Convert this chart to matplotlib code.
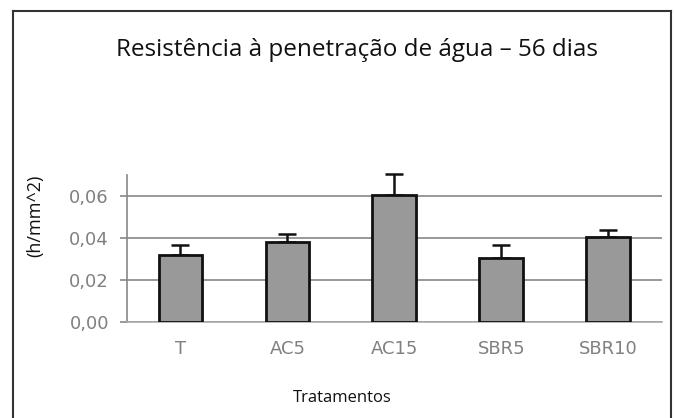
import numpy as np
import matplotlib.pyplot as plt
from matplotlib.lines import Line2D

# data
categorias = ["T", "AC5", "AC15", "SBR5", "SBR10"]
medias = [0.0317, 0.0380, 0.0603, 0.0305, 0.0404]
erros = [0.0050, 0.0040, 0.0100, 0.0060, 0.0035]
yticks = [0.00, 0.02, 0.04, 0.06]
ytick_labels = ["0,00", "0,02", "0,04", "0,06"]

plt.rcParams['font.family'] = ['Open Sans', 'DejaVu Sans']

fig = plt.figure(figsize=(6.74, 4.18), dpi=100, facecolor='white')
ax = fig.add_axes([0.1884, 0.2297, 0.7936, 0.3516])

x = np.arange(len(categorias)) + 0.5
ax.bar(x, medias, width=0.41, color='#999999', edgecolor='#111111', linewidth=2, zorder=3)
ax.errorbar(x, medias, yerr=[np.zeros(len(erros)), erros], fmt='none',
            ecolor='#111111', elinewidth=1.8, capsize=6.5, capthick=1.8, zorder=2,
            clip_on=False)

ax.set_xlim(0, 5)
ax.set_ylim(0, 0.07)
ax.set_yticks(yticks)
ax.set_yticklabels(ytick_labels, family='DejaVu Sans')
ax.set_xticks(x)
ax.set_xticklabels(categorias, family='DejaVu Sans')
ax.grid(axis='y', color='#888888', linewidth=1.2, zorder=0)

for s in ['top', 'right']:
    ax.spines[s].set_visible(False)
ax.spines['left'].set_color('#888888')
ax.spines['left'].set_linewidth(1.2)
ax.spines['bottom'].set_color('#aaaaaa')
ax.spines['bottom'].set_linewidth(1.2)
ax.tick_params(axis='y', length=5, color='#888888', width=1.2, labelcolor='#808080',
               labelsize=13, pad=8)
ax.tick_params(axis='x', length=0, labelcolor='#808080', labelsize=13, pad=13)

fig.text(0.052, 0.483, "(h/mm^2)", rotation=90, ha='center', va='center',
         fontsize=13, color='#111111')
fig.text(0.508, 0.048, "Tratamentos", ha='center', va='center', fontsize=12, color='#111111')
fig.text(0.53, 0.88, "Resistência à penetração de água – 56 dias", ha='center', va='center',
         fontsize=17.5, color='#111111')

# outer frame (no bottom edge)
for xs, ys in [([0.0193, 0.0193], [0.0, 0.974]),
               ([0.0193, 0.9955], [0.974, 0.974]),
               ([0.9955, 0.9955], [0.974, 0.0])]:
    fig.add_artist(Line2D(xs, ys, transform=fig.transFigure, color='#333333', linewidth=1.5))

fig.savefig('out.png', dpi=100)
